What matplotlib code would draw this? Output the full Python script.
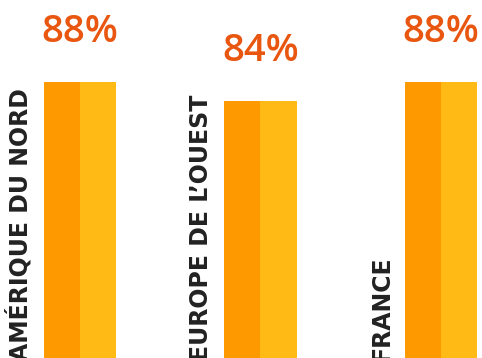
import numpy as np
import matplotlib
matplotlib.use("Agg")
import matplotlib.pyplot as plt

# --- data ---
regions = ["AMÉRIQUE DU NORD", "EUROPE DE L’OUEST", "FRANCE"]
share_a = [88, 84, 88]
share_b = [88, 84, 88]
pct_labels = ["88%", "84%", "88%"]

col_a = "#FF9900"
col_b = "#FFBA16"
col_pct = "#E8560F"
col_txt = "#222222"

fig = plt.figure(figsize=(4.82, 3.58), dpi=100)
ax = fig.add_axes([0, 0, 1, 1])

x = np.arange(len(regions))
w = 0.2
ax.bar(x - w / 2, share_a, width=w, color=col_a, linewidth=0)
ax.bar(x + w / 2, share_b, width=w, color=col_b, linewidth=0)

ax.set_xlim(-0.443, 2.227)
ax.set_ylim(29.9, 105.26)
ax.axis("off")

for i in range(len(regions)):
    top = max(share_a[i], share_b[i])
    # percentage above the bar pair
    ax.annotate(pct_labels[i], xy=(x[i], top), xytext=(0, 29),
                textcoords="offset points", ha="center", va="baseline",
                fontsize=27.5, family=["Open Sans", "DejaVu Sans"],
                fontweight="semibold", color=col_pct)
    # vertical region name left of the bars
    ax.annotate(regions[i], xy=(x[i] - w, 29.9), xytext=(-8, -2),
                textcoords="offset points", ha="right", va="bottom",
                rotation=90, fontsize=17, fontweight="bold",
                family=["DejaVu Sans"], color=col_txt)

fig.savefig("out.png", dpi=100)
